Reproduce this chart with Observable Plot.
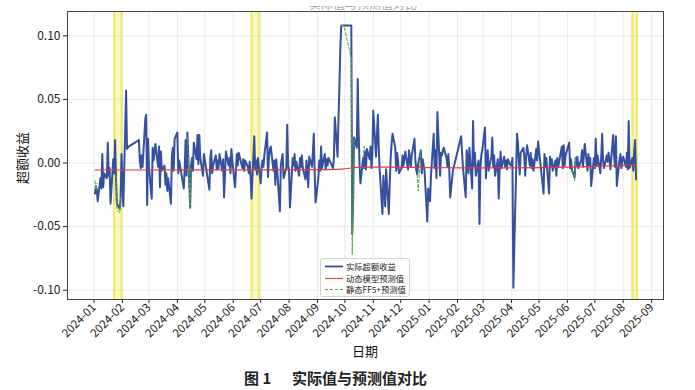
<!DOCTYPE html>
<html><head><meta charset="utf-8">
<script src="https://cdn.jsdelivr.net/npm/d3@7"></script>
<script src="https://cdn.jsdelivr.net/npm/@observablehq/plot@0.6"></script>
<style>
html,body{margin:0;padding:0;background:#fff;}
#wrap{position:relative;width:695px;height:390px;overflow:hidden;font-family:"Noto Sans CJK SC","Noto Sans",sans-serif;color:#222;}
#chart{position:absolute;left:0;top:0;}
#chart svg g[aria-label="y-axis tick label"] text{font-size:12px;}
#chart svg g[aria-label="x-axis tick label"] text{font-size:11.5px;}
.abs{position:absolute;white-space:nowrap;}
#legend{position:absolute;left:320px;top:258px;width:90px;height:39px;border:1px solid #d2d2d2;border-radius:3px;background:rgba(255,255,255,0.88);box-sizing:border-box;}
#legend .row{position:absolute;left:0;height:11px;width:100%;}
#legend svg{position:absolute;left:4px;top:0;}
#legend span{position:absolute;left:25px;top:0;font-size:8.3px;line-height:11px;color:#222;}
</style></head>
<body><div id="wrap"><div id="chart"></div></div>
<script>
// ---- data ----
const holidays = ["2024-01-01","2024-02-09","2024-02-12","2024-02-13","2024-02-14","2024-02-15","2024-02-16",
  "2024-04-04","2024-04-05","2024-05-01","2024-05-02","2024-05-03","2024-06-10","2024-09-16","2024-09-17",
  "2024-10-01","2024-10-02","2024-10-03","2024-10-04","2024-10-07",
  "2025-01-01","2025-01-28","2025-01-29","2025-01-30","2025-01-31","2025-02-03","2025-02-04",
  "2025-04-04","2025-05-01","2025-05-02","2025-05-05","2025-06-02"];
const lastDate = "2025-08-15";

const r2401 = [-0.024,-0.018,-0.021,-0.030,-0.012,-0.020,0.007,-0.019,-0.008,-0.012,0.016,-0.010,-0.004,-0.032,0.003,-0.008,0.018,-0.012,-0.032,-0.036,-0.028,0.007];
const r2402 = [-0.015,-0.034,0.057,0.011,0.012,0.013,0.018,0.002,-0.004,0.006,-0.003,0.035,0.038,-0.033,0.019];
const r2403 = [-0.004,-0.028,0.012,0.002,0.008,0.015,-0.003,0.013,-0.019,0.009,-0.006,-0.002,-0.017,-0.008,-0.022,-0.012,-0.032,0.005,0.012,-0.006,0.019];
const r2404 = [0.024,-0.008,0.002,-0.020,-0.005,0.018,-0.010,0.024,-0.035,-0.002,0.004,-0.006,0.016,0.003,0.022,-0.001,0.022,0.004,-0.010,0.007];
const r2405 = [-0.021,0.004,0.010,-0.008,-0.002,0.006,-0.005,0.002,-0.004,0.007,-0.006,0.003,-0.027,-0.010,0.009,-0.002,0.004,-0.008,0.011,0.002];
const r2406 = [-0.019,-0.006,0.007,-0.002,0.008,-0.004,0.003,-0.006,0.002,-0.003,-0.008,0.001,-0.011,-0.028,0.021,-0.005,0.002,-0.009,0.004];
const r2407 = [-0.016,-0.004,0.002,-0.003,0.006,0.024,-0.011,0.004,0.011,0.013,-0.006,0.002,-0.017,0.003,-0.005,-0.038,-0.002,0.003,0.007,-0.012,-0.004,0.030,-0.002];
const r2408 = [-0.006,-0.035,0.004,-0.002,0.007,-0.006,0.001,-0.010,0.004,-0.003,0.006,-0.004,-0.013,0.002,-0.006,-0.019,0.005,-0.003,0.008,0.023,-0.008,-0.031];
const r2409 = [-0.012,0.002,-0.006,0.013,-0.004,0.007,-0.005,0.003,-0.002,0.004,-0.004,0.004,0.036,0.005,0.035,0.060,0.090,0.108,0.108];
const r2410 = [0.108,-0.056,-0.030,0.020,0.012,0.066,0.025,-0.002,-0.016,0.004,-0.004,0.009,-0.005,0.011,0.003,0.013,-0.004,0.008];
const r2411 = [0.041,0.005,0.022,0.038,0.012,-0.006,-0.040,-0.010,-0.022,-0.034,-0.005,-0.040,-0.015,0.004,0.015,0.023,0.012,-0.006,0.008,0.002,-0.008];
const r2412 = [-0.004,0.006,-0.002,0.003,0.009,-0.005,0.010,0.004,-0.003,0.006,0.019,0.002,-0.006,-0.009,-0.001,0.010,-0.008,0.003,-0.002,-0.006,-0.046,-0.020];
const r2501 = [-0.030,-0.010,0.023,-0.004,0.010,-0.012,0.040,-0.010,0.008,0.006,0.010,0.012,0.004,-0.003,0.007,-0.005,-0.027,-0.006];
const r2502 = [0.021,0.008,-0.004,-0.027,0.010,0.004,-0.008,0.012,-0.020,0.033,-0.002,0.008,-0.010,0.002,-0.048,-0.004,0.006,0.010];
const r2503 = [0.028,-0.012,0.004,0.010,-0.006,0.005,0.020,-0.003,0.006,-0.010,0.003,-0.028,-0.006,0.009,-0.004,0.005,-0.003,0.002,-0.005,0.003,-0.002];
const r2504 = [-0.002,0.004,-0.098,0.023,0.016,0.002,-0.009,0.008,0.012,0.004,-0.010,0.006,0.014,-0.002,0.008,-0.004,0.003,-0.006,0.011,0.002,0.017];
const r2505 = [-0.024,0.007,-0.003,0.004,-0.024,0.005,-0.002,0.003,-0.006,0.002,-0.010,0.004,-0.003,0.001,0.013,-0.004,0.014,-0.002,0.006];
const r2506 = [0.016,-0.004,0.003,-0.006,-0.011,0.004,-0.002,0.005,-0.004,0.002,0.010,-0.003,0.006,0.015,-0.006,0.007,-0.002,0.004,-0.018,0.004];
const r2507 = [-0.004,0.019,-0.002,0.006,-0.008,0.005,0.023,0.002,-0.004,0.006,0.001,0.008,0.003,-0.005,0.022,0.006,-0.003,0.021,-0.018,0.003,0.007,-0.004,0.002];
const r2508 = [0.005,-0.003,0.008,-0.005,0.033,-0.004,0.004,-0.006,0.010,0.018,-0.013];

const monthly = [["2024-01",r2401],["2024-02",r2402],["2024-03",r2403],["2024-04",r2404],["2024-05",r2405],["2024-06",r2406],
  ["2024-07",r2407],["2024-08",r2408],["2024-09",r2409],["2024-10",r2410],["2024-11",r2411],["2024-12",r2412],
  ["2025-01",r2501],["2025-02",r2502],["2025-03",r2503],["2025-04",r2504],["2025-05",r2505],["2025-06",r2506],
  ["2025-07",r2507],["2025-08",r2508]];

// dynamic model prediction (red)
const dynDates = ["2024-01-02","2024-03-01","2024-05-06","2024-07-01","2024-09-02","2024-09-27","2024-10-15","2024-11-01","2024-12-02","2025-01-02","2025-02-05","2025-03-03","2025-04-01","2025-05-06","2025-06-03","2025-07-01","2025-08-01","2025-08-15"];
const dynValues = [-0.0055,-0.0055,-0.0054,-0.0054,-0.0052,-0.0048,-0.0034,-0.0032,-0.0034,-0.0036,-0.0038,-0.0039,-0.0039,-0.0037,-0.0033,-0.0026,-0.0018,-0.0012];

// static FF5+ prediction (green dashed), visible where it departs from the actual line
const ff5Segments = [
  [["2024-01-02",-0.014],["2024-01-03",-0.021],["2024-01-04",-0.016]],
  [["2024-01-25",-0.010],["2024-01-26",-0.037],["2024-01-29",-0.039],["2024-01-30",-0.027]],
  [["2024-04-12",0.020],["2024-04-15",-0.036],["2024-04-16",-0.004]],
  [["2024-09-27",0.108],["2024-09-30",0.108],["2024-10-08",0.082],["2024-10-09",-0.072],["2024-10-10",-0.034],["2024-10-11",0.018]],
  [["2024-10-21",0.004],["2024-10-22",0.013],["2024-10-23",0.009]],
  [["2024-12-19",-0.009],["2024-12-20",-0.022],["2024-12-23",0.010]],
  [["2025-06-06",-0.006],["2025-06-09",-0.014],["2025-06-10",0.004]]
];

const bands = [["2024-01-23","2024-01-31"],["2024-06-21","2024-06-29"],["2025-08-11","2025-08-16"]];
const yTicks = [-0.10,-0.05,0.00,0.05,0.10];
const tickMonths = ["2024-01","2024-02","2024-03","2024-04","2024-05","2024-06","2024-07","2024-08","2024-09","2024-10","2024-11","2024-12",
  "2025-01","2025-02","2025-03","2025-04","2025-05","2025-06","2025-07","2025-08","2025-09"];

// ---- build tables ----
const parse = d3.utcParse("%Y-%m-%d");
const fmtDay = d3.utcFormat("%Y-%m-%d");
const holidaySet = new Set(holidays);
const end = parse(lastDate);
const actual = [];
for (const [m, vals] of monthly) {
  const start = parse(m + "-01");
  const next = d3.utcMonth.offset(start, 1);
  const days = d3.utcDays(start, next).filter(d => d.getUTCDay() !== 0 && d.getUTCDay() !== 6 && !holidaySet.has(fmtDay(d)) && d <= end);
  vals.forEach((v, i) => { if (i < days.length) actual.push({date: days[i], value: v}); });
}
const dyn = dynDates.map((d, i) => ({date: parse(d), value: dynValues[i]}));
const ff5 = ff5Segments.flatMap((seg, k) => seg.map(([d, v]) => ({date: parse(d), value: v, seg: k})));
const bandRows = bands.map(([a, b]) => ({start: parse(a), end: parse(b)}));
const bandEdges = bandRows.flatMap(b => [b.start, b.end]);
const monthTicks = tickMonths.map(m => parse(m + "-01"));

const chart = Plot.plot({
  width: 695, height: 362,
  marginLeft: 67, marginRight: 32, marginTop: 11, marginBottom: 63,
  style: {fontFamily: '"Noto Sans CJK SC","Noto Sans",sans-serif', fontSize: "11px", color: "#222", background: "#fff", overflow: "visible"},
  x: {type: "utc", domain: [parse("2023-12-03"), parse("2025-09-14")], ticks: monthTicks, tickFormat: d3.utcFormat("%Y-%m"), tickRotate: -45, tickSize: 4, tickPadding: 2, label: null},
  y: {domain: [-0.1073, 0.1191], ticks: yTicks, tickFormat: d => d.toFixed(2), tickSize: 4, tickPadding: 3, label: null},
  marks: [
    Plot.ruleX(monthTicks, {stroke: "#e4e4e4", strokeWidth: 0.8}),
    Plot.ruleY(yTicks, {stroke: "#e4e4e4", strokeWidth: 0.8}),
    Plot.rect(bandRows, {x1: "start", x2: "end", fill: "#f3ec5a", fillOpacity: 0.38}),
    Plot.ruleX(bandEdges, {stroke: "#ebe140", strokeWidth: 2.2, strokeOpacity: 0.7}),
    Plot.line(actual, {x: "date", y: "value", stroke: "#34509e", strokeWidth: 2, strokeLinejoin: "round"}),
    Plot.line(dyn, {x: "date", y: "value", stroke: "#e23b3b", strokeWidth: 1.2, curve: "monotone-x"}),
    Plot.line(ff5, {x: "date", y: "value", z: "seg", stroke: "#58a846", strokeWidth: 1, strokeDasharray: "3,2"}),
    Plot.frame({stroke: "#444", strokeWidth: 1})
  ]
});
const wrap = document.getElementById("wrap");
document.getElementById("chart").appendChild(chart);

function addDiv(html, css) { const d = document.createElement("div"); d.className = "abs"; d.innerHTML = html; d.style.cssText += css; wrap.appendChild(d); return d; }
// faint title at the very top, mostly cut off as in the reference
addDiv('<div style="position:absolute;left:0;top:-8px;font-size:12px;line-height:12px;color:#a8a8a8;">实际值与预测值对比</div>', "left:309px;top:6px;width:112px;height:4px;overflow:hidden;");
// axis labels
addDiv("日期", "left:352px;top:343px;font-size:13px;line-height:16px;color:#111;");
addDiv("超额收益", "left:-4px;top:150px;width:52px;text-align:center;font-size:13px;line-height:16px;color:#111;transform:rotate(-90deg);");
// caption
addDiv("图 1", "left:244px;top:369px;font-size:15px;line-height:18px;font-weight:bold;color:#222;");
addDiv("实际值与预测值对比", "left:292px;top:369px;font-size:15px;line-height:18px;font-weight:bold;color:#222;");
// legend
const legend = document.createElement("div"); legend.id = "legend"; wrap.appendChild(legend);
const legendItems = [["实际超额收益", "#34509e", 1.8, null], ["动态模型预测值", "#e23b3b", 1.1, null], ["静态FF5+预测值", "#58a846", 1, "3,2"]];
legendItems.forEach(([t, c, w, dash], i) => {
  const row = document.createElement("div"); row.className = "row"; row.style.top = (2 + i * 11.5) + "px";
  row.innerHTML = `<svg width="18" height="11"><line x1="0" x2="18" y1="5.5" y2="5.5" stroke="${c}" stroke-width="${w}" ${dash ? `stroke-dasharray="${dash}"` : ""}/></svg><span>${t}</span>`;
  legend.appendChild(row);
});
</script></body></html>
